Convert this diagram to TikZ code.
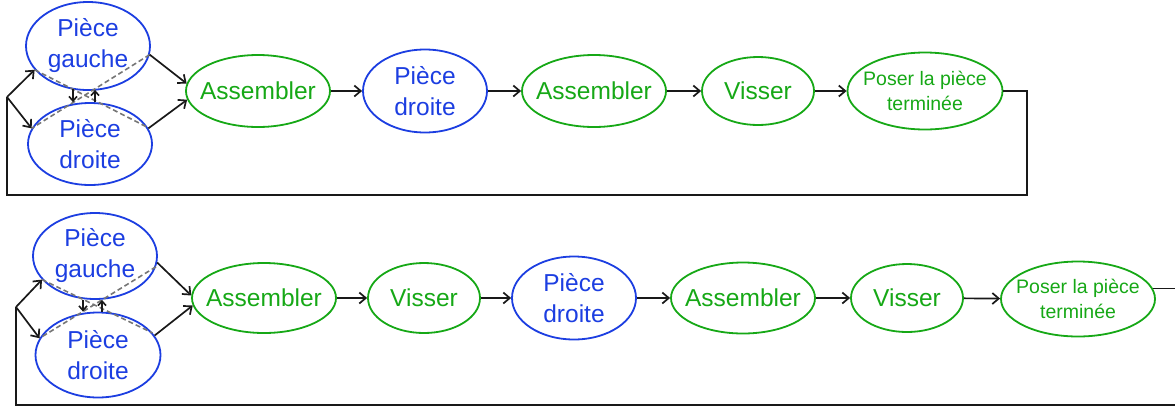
\documentclass[tikz,border=0pt]{standalone}
\usepackage{fontspec}
\setmainfont{Liberation Sans}
\usetikzlibrary{shapes.geometric,arrows.meta}
\definecolor{partblue}{RGB}{28,62,225}
\definecolor{opgreen}{RGB}{22,168,22}
\definecolor{flowgray}{RGB}{118,118,118}
\definecolor{linkblack}{RGB}{25,25,25}
\tikzset{
  % the outline is sized by minimum width/height; the words sit centred on it
  bubble/.style={ellipse, draw, line width=1.8pt, inner sep=0pt},
  words/.style={inner sep=0pt, align=center},
  part/.style={bubble, draw=partblue},
  op/.style={bubble, draw=opgreen},
  partword/.style={words, text=partblue, font=\fontsize{24.5}{31}\selectfont},
  opword/.style={words, text=opgreen, font=\fontsize{24.5}{31}\selectfont},
  opsmallword/.style={words, text=opgreen, font=\fontsize{19.5}{25}\selectfont},
  link/.style={draw=linkblack, line width=1.7pt, -{Straight Barb[length=6.5pt,width=11pt,line width=1.7pt]}},
  shortlink/.style={draw=linkblack, line width=1.6pt, -{Straight Barb[length=4.5pt,width=8pt,line width=1.6pt]}},
  loopline/.style={draw=linkblack, line width=1.8pt},
  crossflow/.style={draw=flowgray, line width=1.6pt, dash pattern=on 5pt off 3pt},
}
\begin{document}
\begin{tikzpicture}[x=1pt, y=-1pt]
\useasboundingbox (0,0) rectangle (1175,408);

% ---------- first sequence ----------
\node[part, minimum width=124pt, minimum height=88pt,
      label={[partword]center:Pièce\\gauche}] (g1) at (88,46) {};
\node[part, minimum width=124pt, minimum height=82pt,
      label={[partword]center:Pièce\\droite}] (d1) at (90,144) {};
\node[op, minimum width=144pt, minimum height=72pt,
      label={[opword]center:Assembler}] (A1) at (258,91) {};
\node[part, minimum width=124pt, minimum height=83pt,
      label={[partword]center:Pièce\\droite}] (D1) at (425,91) {};
\node[op, minimum width=144pt, minimum height=72pt,
      label={[opword]center:Assembler}] (A2) at (594,91) {};
\node[op, minimum width=112pt, minimum height=68pt,
      label={[opword]center:Visser}] (V1) at (758,91) {};
\node[op, minimum width=155pt, minimum height=77pt,
      label={[opsmallword]center:Poser la pièce\\terminée}] (P1) at (925,91) {};
\coordinate (e1) at (7,97);
\coordinate (c1) at (1027,195);

\draw[crossflow] (g1.204) -- (d1.16);
\draw[crossflow] (g1.352) -- (d1.165);
\draw[link] (e1) -- (g1.204);
\draw[link] (e1) -- (d1.165);
\draw[shortlink] ([xshift=-15pt,yshift=1.5pt]g1.south) -- ([xshift=-17pt]d1.north);
\draw[shortlink] ([xshift=5pt]d1.north) -- ([xshift=7pt,yshift=1pt]g1.south);
\draw[link] (g1.352) -- (A1.174);
\draw[link] (d1.15) -- (A1.187);
\draw[link] (A1) -- (D1);
\draw[link] (D1) -- (A2);
\draw[link] (A2) -- (V1);
\draw[link] (V1) -- (P1);
\draw[loopline] (P1.east) -| (c1) -| (e1);

% ---------- second sequence ----------
\node[part, minimum width=124pt, minimum height=86pt,
      label={[partword]center:Pièce\\gauche}] (g2) at (95,256) {};
\node[part, minimum width=125pt, minimum height=85pt,
      label={[partword]center:Pièce\\droite}] (d2) at (98,355) {};
\node[op, minimum width=144pt, minimum height=70pt,
      label={[opword]center:Assembler}] (A3) at (264,298) {};
\node[op, minimum width=112pt, minimum height=70pt,
      label={[opword]center:Visser}] (V2) at (424,298) {};
\node[part, minimum width=124pt, minimum height=83pt,
      label={[partword]center:Pièce\\droite}] (D2) at (574,298) {};
\node[op, minimum width=144pt, minimum height=71pt,
      label={[opword]center:Assembler}] (A4) at (743,298) {};
\node[op, minimum width=112pt, minimum height=68pt,
      label={[opword]center:Visser}] (V3) at (907,298) {};
\node[op, minimum width=154pt, minimum height=75pt,
      label={[opsmallword]center:Poser la pièce\\terminée}] (P2) at (1078,299) {};
\coordinate (e2) at (16,307);
\coordinate (c2) at (1175,405);

\draw[crossflow] (g2.204) -- (d2.22);
\draw[crossflow] (g2.350) -- (d2.164);
\draw[link] (e2) -- (g2.204);
\draw[link] (e2) -- (d2.164);
\draw[shortlink] ([xshift=-12pt]g2.south) -- ([xshift=-15pt]d2.north);
\draw[shortlink] ([xshift=4pt]d2.north) -- ([xshift=7pt]g2.south);
\draw[link] (g2.354) -- (A3.178);
\draw[link] (d2.19) -- (A3.186);
\draw[link] (A3) -- (V2);
\draw[link] (V2) -- (D2);
\draw[link] (D2) -- (A4);
\draw[link] (A4) -- (V3);
\draw[link] (V3) -- (P2);
\draw[loopline] (P2.8) -- (P2.8 -| c2);
\draw[loopline] (e2) |- (c2);
\end{tikzpicture}
\end{document}
